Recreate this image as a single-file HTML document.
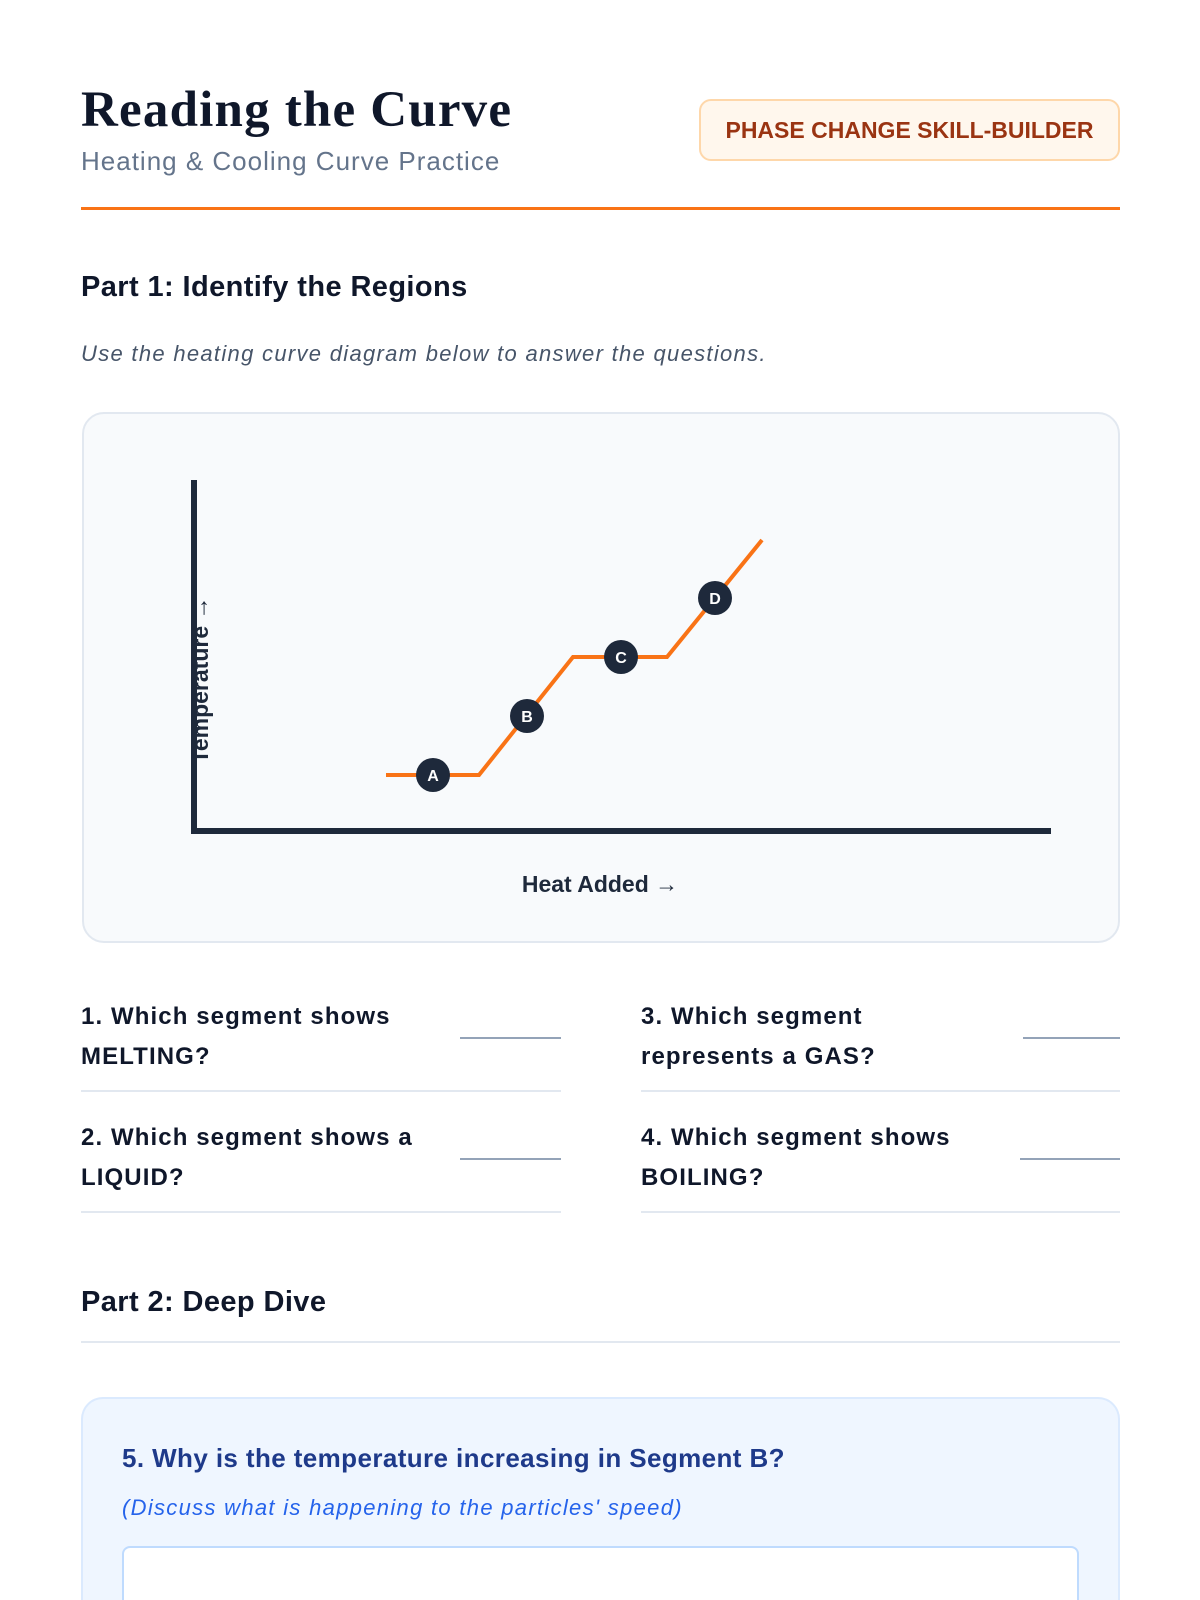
<!DOCTYPE html>
<html style="width:1200px;height:1600px;overflow:hidden"><head><meta charset="utf-8"><style>
*{margin:0;padding:0;box-sizing:border-box}
body{width:1200px;height:1600px;background:#fff;position:relative;overflow:hidden;font-family:"Liberation Sans",sans-serif;color:#0f172a}
.a{position:absolute;white-space:nowrap}
.q{position:absolute;font-size:24px;font-weight:bold;line-height:40px;color:#0f172a;letter-spacing:1.1px}
.bl{position:absolute;height:2px;background:#94a3b8}
.dv{position:absolute;height:2px;background:#e2e8f0}
</style></head><body>
<div class="a" style="left:81px;top:80px;font-family:'Liberation Serif',serif;font-weight:bold;font-size:51px;line-height:60px;color:#0f172a;letter-spacing:1.2px">Reading the Curve</div>
<div class="a" style="left:81px;top:144px;font-size:26px;line-height:34px;color:#64748b;letter-spacing:1px">Heating &amp; Cooling Curve Practice</div>
<div class="a" style="left:699px;top:99px;width:421px;height:62px;background:#fff7ed;border:2px solid #fed7aa;border-radius:12px;color:#9a3412;font-weight:bold;font-size:23px;line-height:58px;text-align:center">PHASE CHANGE SKILL-BUILDER</div>
<div class="a" style="left:81px;top:207px;width:1039px;height:3px;background:#f97316"></div>
<div class="a" style="left:81px;top:269px;font-size:29px;font-weight:bold;line-height:36px;letter-spacing:0.4px">Part 1: Identify the Regions</div>
<div class="a" style="left:81px;top:340px;font-size:22px;font-style:italic;line-height:28px;color:#475569;letter-spacing:1.3px">Use the heating curve diagram below to answer the questions.</div>
<div class="a" style="left:82px;top:412px;width:1038px;height:531px;background:#f8fafc;border:2px solid #e2e8f0;border-radius:22px"></div>
<svg class="a" style="left:0;top:0" width="1200" height="1000">
<line x1="194" y1="480" x2="194" y2="834" stroke="#1e293b" stroke-width="6"/>
<line x1="191" y1="831" x2="1051" y2="831" stroke="#1e293b" stroke-width="6"/>
<polyline points="386,775 479,775 573,657 667,657 762,540" fill="none" stroke="#f97316" stroke-width="4"/>
<g font-family="Liberation Sans" font-weight="bold" font-size="16" fill="#fff" text-anchor="middle">
<circle cx="433" cy="775" r="17" fill="#1e293b"/><text x="433" y="781">A</text>
<circle cx="527" cy="716" r="17" fill="#1e293b"/><text x="527" y="722">B</text>
<circle cx="621" cy="657" r="17" fill="#1e293b"/><text x="621" y="663">C</text>
<circle cx="715" cy="598" r="17" fill="#1e293b"/><text x="715" y="604">D</text>
</g>
<text x="600" y="892" font-family="Liberation Sans" font-weight="bold" font-size="23" fill="#1e293b" text-anchor="middle">Heat Added →</text>
<text transform="translate(208,680) rotate(-90)" font-family="Liberation Sans" font-weight="bold" font-size="23" fill="#1e293b" text-anchor="middle">Temperature →</text>
</svg>
<div class="q" style="left:81px;top:997px">1. Which segment shows<br>MELTING?</div>
<div class="bl" style="left:460px;top:1037px;width:101px"></div>
<div class="dv" style="left:81px;top:1090px;width:480px"></div>
<div class="q" style="left:641px;top:997px">3. Which segment<br>represents a GAS?</div>
<div class="bl" style="left:1023px;top:1037px;width:97px"></div>
<div class="dv" style="left:641px;top:1090px;width:479px"></div>
<div class="q" style="left:81px;top:1118px">2. Which segment shows a<br>LIQUID?</div>
<div class="bl" style="left:460px;top:1158px;width:101px"></div>
<div class="dv" style="left:81px;top:1211px;width:480px"></div>
<div class="q" style="left:641px;top:1118px">4. Which segment shows<br>BOILING?</div>
<div class="bl" style="left:1020px;top:1158px;width:100px"></div>
<div class="dv" style="left:641px;top:1211px;width:479px"></div>
<div class="a" style="left:81px;top:1284px;font-size:29px;font-weight:bold;line-height:36px;letter-spacing:0.4px">Part 2: Deep Dive</div>
<div class="dv" style="left:81px;top:1341px;width:1039px"></div>
<div class="a" style="left:81px;top:1397px;width:1039px;height:203px;background:#eff6ff;border:2px solid #dbeafe;border-bottom:none;border-radius:22px 22px 0 0"></div>
<div class="a" style="left:122px;top:1442px;font-size:26px;font-weight:bold;line-height:32px;color:#1e3a8a;letter-spacing:0.4px">5. Why is the temperature increasing in Segment B?</div>
<div class="a" style="left:122px;top:1494px;font-size:22px;font-style:italic;line-height:28px;color:#2563eb;letter-spacing:1.3px">(Discuss what is happening to the particles' speed)</div>
<div class="a" style="left:122px;top:1546px;width:957px;height:54px;background:#fff;border:2px solid #bfdbfe;border-bottom:none;border-radius:8px 8px 0 0"></div>
</body></html>
